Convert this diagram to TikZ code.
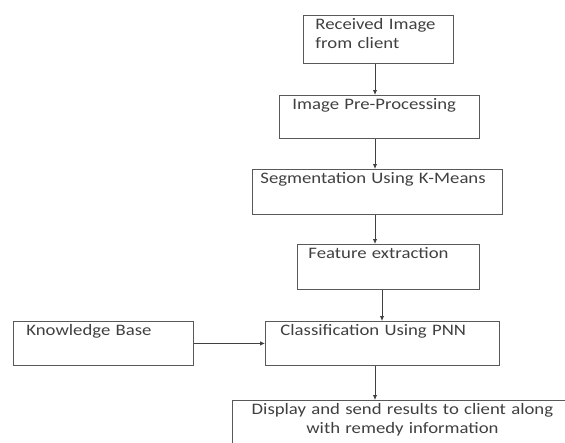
\documentclass[tikz,border=0pt]{standalone}
\usepackage{fontspec}
\setmainfont{Carlito}[FakeStretch=1.17]
\usetikzlibrary{arrows.meta}
\usepackage{xcolor}

\begin{document}
\begin{tikzpicture}
  [x=1pt,y=-1pt,
   every node/.style={rectangle,draw=black!65,line width=0.9pt,anchor=north west,
     align=left,inner ysep=3pt,text height=11pt,text=black!75,
     font=\fontsize{16}{19.5}\selectfont},
   flow/.style={-{Latex[length=5pt,width=4.5pt]},draw=black!75,line width=0.9pt}]
  \clip (0,0) rectangle (565,442);

  \node[text width=126pt,inner xsep=12pt,text depth=31pt] (recv)     at (303,15)  {Received Image\\from client};
  \node[text width=174pt,inner xsep=13pt,text depth=26pt] (prep)     at (279,95)  {Image Pre-Processing};
  \node[text width=234pt,inner xsep=8pt,text depth=28pt]  (seg)      at (252,169) {Segmentation Using K-Means};
  \node[text width=160pt,inner xsep=11pt,text depth=28pt] (feat)     at (297,244) {Feature extraction};
  \node[text width=204pt,inner xsep=15pt,text depth=27pt] (classify) at (265,321) {Classification Using PNN};
  \node[text width=154pt,inner xsep=13pt,text depth=27pt] (kb)       at (13,321)  {Knowledge Base};
  \node[text width=320pt,inner xsep=10pt,text depth=40pt,align=center] (disp) at (232,400)
    {Display and send results to client along\\with remedy information};

  \foreach \from/\to/\x in {recv/prep/375,prep/seg/375,seg/feat/375,feat/classify/382,classify/disp/375}
    \draw[flow] (\x,0 |- \from.south) -- (\x,0 |- \to.north);

  \draw[flow] (kb) -- (classify);

\end{tikzpicture}
\end{document}
